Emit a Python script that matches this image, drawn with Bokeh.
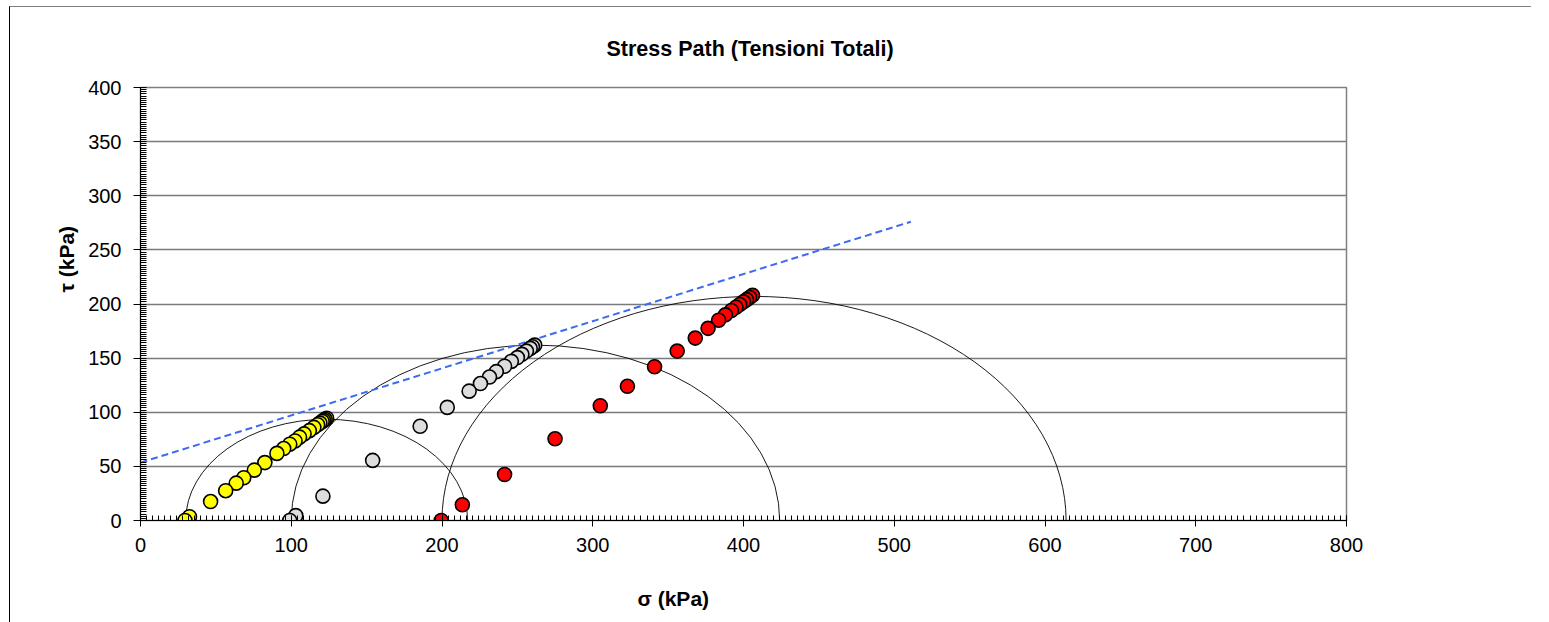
from bokeh.plotting import figure
from bokeh.models import Range1d, FixedTicker, Title
from bokeh.embed import file_html
from bokeh.resources import INLINE

# ---- data ----
yellow_sigma = [29.5, 32.5, 46.5, 56.5, 63.5, 68.5, 75.5, 82.5, 90.5, 95, 99, 102.5,
                105.5, 108.5, 112, 115, 117.5, 119, 120.5, 121.5, 122.5, 123.5]
yellow_tau = [0, 3.5, 17.5, 27.5, 34.5, 39.5, 46.5, 53.5, 62, 66.5, 70.5, 73.5,
              77, 80, 83, 86, 88.5, 90, 91.5, 92.5, 93.5, 94.5]

gray_sigma = [99, 103, 121, 154, 185.5, 203.5, 218, 225.5, 231.5, 236, 241.5, 246,
              250, 253, 256, 258.5, 260, 261.5]
gray_tau = [0, 4.5, 22.5, 55.5, 87, 104.5, 119.5, 126.5, 132.5, 137.5, 142.5, 147,
            150.5, 153.5, 156.5, 159, 160.5, 162]

red_sigma = [199.5, 213.5, 241.5, 275, 305, 323, 341, 356, 368, 376.5, 383.5, 388,
             392, 395, 397.5, 400, 402, 404, 406]
red_tau = [0, 14.5, 42.5, 75.5, 106, 124, 142, 156.5, 168.5, 177.5, 185, 190,
           194, 197, 199.5, 202, 204, 206, 208]

# Mohr circles: minor and major principal total stresses
circle_sigma3 = [30, 100, 200]
circle_sigma1 = [217, 424, 614]

# failure envelope (dashed)
env_sigma = [0, 511]
env_tau = [53.5, 276]

x_ticks = [0, 100, 200, 300, 400, 500, 600, 700, 800]
y_ticks = [0, 50, 100, 150, 200, 250, 300, 350, 400]

FONT = "Liberation Sans"

p = figure(frame_width=1206, frame_height=433,
           x_range=Range1d(0, 800), y_range=Range1d(0, 400),
           output_backend="svg", toolbar_location=None,
           min_border_left=130, min_border_right=185,
           min_border_top=80, min_border_bottom=95,
           background_fill_color="white", border_fill_color="white")
p.styles = {"margin-left": "9px", "margin-top": "6px",
            "border-left": "1px solid #000000", "border-top": "1px solid #808080"}
p.outline_line_color = "#808080"
p.outline_line_width = 1.5

# axes
p.xaxis.ticker = FixedTicker(ticks=x_ticks, minor_ticks=list(range(0, 801, 4)))
p.yaxis.ticker = FixedTicker(ticks=y_ticks, minor_ticks=list(range(0, 401, 2)))
for ax in (p.xaxis, p.yaxis):
    ax.axis_line_color = "black"
    ax.axis_line_width = 1
    ax.major_tick_line_color = "black"
    ax.minor_tick_line_color = "black"
    ax.major_label_text_font = FONT
    ax.major_label_text_font_size = "20px"
    ax.major_label_text_color = "black"
p.xaxis.major_tick_in = 5
p.xaxis.major_tick_out = 6
p.xaxis.minor_tick_in = 5
p.xaxis.minor_tick_out = 0
p.xaxis.major_label_standoff = 11
p.yaxis.major_tick_in = 5
p.yaxis.major_tick_out = 7
p.yaxis.minor_tick_in = 6
p.yaxis.minor_tick_out = 0
p.yaxis.major_label_standoff = 12

p.xgrid.visible = False
p.ygrid.ticker = FixedTicker(ticks=y_ticks)
p.ygrid.grid_line_color = "#7a7a7a"
p.ygrid.grid_line_width = 1.3

# Mohr circles
centers = [(a + b) / 2 for a, b in zip(circle_sigma3, circle_sigma1)]
diams = [(b - a) for a, b in zip(circle_sigma3, circle_sigma1)]
p.ellipse(x=centers, y=[0, 0, 0], width=diams, height=diams,
          fill_color=None, line_color="black", line_width=0.9)

# envelope
p.line(env_sigma, env_tau, line_color="#3d6af0", line_width=2, line_dash="7 4")

# stress paths
for xs, ys, col in ((yellow_sigma, yellow_tau, "#ffff00"),
                    (gray_sigma, gray_tau, "#dddddd"),
                    (red_sigma, red_tau, "#ff0000")):
    p.scatter(xs[::-1], ys[::-1], size=14, fill_color=col, line_color="black",
              line_width=1.6)

# texts (placed in side panels)
p.title = Title(text="Stress Path (Tensioni Totali)", align="left", offset=466,
                text_font=FONT, text_font_style="bold", text_font_size="21.5px",
                text_color="black", standoff=53)
p.add_layout(Title(text="\u03c3  (kPa)", align="left", offset=497,
                   text_font=FONT, text_font_style="bold", text_font_size="21px",
                   text_color="black", standoff=60), "below")
p.add_layout(Title(text="\u03c4  (kPa)", align="left", offset=228,
                   text_font=FONT, text_font_style="bold", text_font_size="21px",
                   text_color="black", standoff=15), "left")

open("out.html", "w").write(file_html(p, INLINE))
